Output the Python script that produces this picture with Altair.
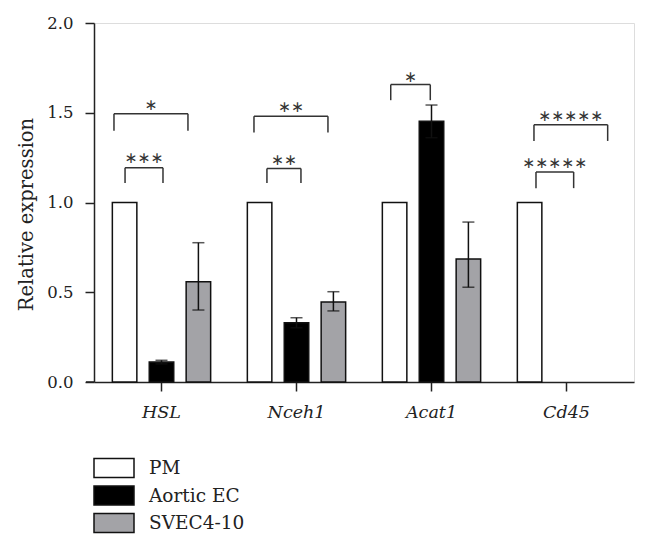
import altair as alt
import pandas as pd

genes = ["HSL", "Nceh1", "Acat1", "Cd45"]
groups = ["PM", "Aortic EC", "SVEC4-10"]

pm_vals = [1.0, 1.0, 1.0, 1.0]
aortic_vals = [0.111, 0.330, 1.452, 0.0]
aortic_lo = [0.101, 0.302, 1.361, None]
aortic_hi = [0.121, 0.358, 1.543, None]
svec_vals = [0.559, 0.446, 0.685, 0.0]
svec_lo = [0.401, 0.396, 0.528, None]
svec_hi = [0.776, 0.503, 0.891, None]

# significance brackets (x in category units: gene i spans [i, i+1])
br_x1 = [0.148, 0.230, 1.185, 1.281, 2.198, 3.259, 3.274]
br_x2 = [0.696, 0.511, 1.733, 1.533, 2.491, 3.805, 3.553]
br_top = [1.494, 1.194, 1.480, 1.190, 1.657, 1.433, 1.170]
br_leg = [1.400, 1.108, 1.390, 1.108, 1.570, 1.343, 1.080]
br_label = ["∗", "∗∗∗", "∗∗", "∗∗", "∗", "∗∗∗∗∗", "∗∗∗∗∗"]
br_label_y = [1.543, 1.248, 1.534, 1.237, 1.700, 1.482, 1.222]

rows = []
for i, g in enumerate(genes):
    rows.append({"gene": g, "group": "PM", "value": pm_vals[i], "lo": None, "hi": None})
    rows.append({"gene": g, "group": "Aortic EC", "value": aortic_vals[i], "lo": aortic_lo[i], "hi": aortic_hi[i]})
    rows.append({"gene": g, "group": "SVEC4-10", "value": svec_vals[i], "lo": svec_lo[i], "hi": svec_hi[i]})
df = pd.DataFrame(rows)
df_bars = df[df["value"] > 0]
df_err = df.dropna(subset=["lo", "hi"])

br = pd.DataFrame({"x1": br_x1, "x2": br_x2, "top": br_top, "leg": br_leg,
                   "label": br_label, "ly": br_label_y})
br["xm"] = (br["x1"] + br["x2"]) / 2

FONT = "DejaVu Serif"
INK = "#222222"
YTITLE = "Relative expression"

x_scale = alt.Scale(paddingInner=0.18, paddingOuter=0.09)
xoff = alt.XOffset("group:N", sort=groups,
                   scale=alt.Scale(paddingInner=0.336, paddingOuter=0.168))
y_scale = alt.Scale(domain=[0, 2], nice=False)

x_axis = alt.Axis(title=None, labelFont=FONT, labelFontStyle="italic", labelFontSize=17.5,
                  labelColor=INK, tickSize=9, tickWidth=1.5, tickColor=INK,
                  domainColor=INK, domainWidth=1.5, labelBaseline="alphabetic",
                  labelPadding=26, labelAngle=0, grid=False)
y_axis = alt.Axis(values=[0, 0.5, 1, 1.5, 2], format=".1f", labelFont=FONT, labelFontSize=16.5,
                  labelColor=INK, tickSize=9, tickWidth=1.5, tickColor=INK,
                  domainColor=INK, domainWidth=1.5, labelPadding=12, grid=False,
                  title=YTITLE, titleFont=FONT, titleFontSize=19.5, titleFontWeight="normal",
                  titleColor=INK, titleAngle=270, titleBaseline="alphabetic",
                  titleAlign="center", titleX=-62, titleY=191)

color_scale = alt.Scale(domain=groups, range=["#ffffff", "#000000", "#a3a3a7"])


def xband():
    return alt.X("gene:N", sort=genes, scale=x_scale, axis=x_axis, title=None)


bars = alt.Chart(df_bars).mark_bar(stroke="#111111", strokeWidth=1.5).encode(
    x=xband(),
    xOffset=xoff,
    y=alt.Y("value:Q", scale=y_scale, axis=y_axis),
    color=alt.Color("group:N", sort=groups, scale=color_scale,
                    legend=alt.Legend(title=None, orient="none", legendX=9, legendY=434,
                                      symbolType="M-2,-0.95L2,-0.95L2,0.95L-2,0.95Z",
                                      symbolSize=400, symbolStrokeColor="#111111",
                                      symbolStrokeWidth=1.5, symbolOpacity=1,
                                      labelFont=FONT, labelFontSize=18.5, labelColor=INK,
                                      labelOffset=24, rowPadding=1.5)),
)

err = alt.Chart(df_err).mark_rule(color="#111111", strokeWidth=1.5).encode(
    x=xband(),
    xOffset=xoff,
    y=alt.Y("lo:Q", scale=y_scale, title=YTITLE),
    y2="hi:Q",
)
cap_hi = alt.Chart(df_err).mark_tick(color="#111111", thickness=1.5, size=12).encode(
    x=xband(),
    xOffset=xoff,
    y=alt.Y("hi:Q", scale=y_scale, title=YTITLE),
)
cap_lo = alt.Chart(df_err).mark_tick(color="#111111", thickness=1.5, size=12).encode(
    x=xband(),
    xOffset=xoff,
    y=alt.Y("lo:Q", scale=y_scale, title=YTITLE),
)

axis_ext = alt.Chart(pd.DataFrame({"a": [0]})).mark_rule(color=INK, strokeWidth=1.5).encode(
    x=alt.value(-8), x2=alt.value(0), y=alt.value(359)
)

band_layer = alt.layer(bars, err, cap_hi, cap_lo, axis_ext)

bx = alt.Scale(domain=[0, 4], nice=False, zero=False)
br_top_line = alt.Chart(br).mark_rule(color="#333333", strokeWidth=1.5).encode(
    x=alt.X("x1:Q", scale=bx, axis=None), x2="x2:Q",
    y=alt.Y("top:Q", scale=y_scale, title=YTITLE),
)
br_left = alt.Chart(br).mark_rule(color="#333333", strokeWidth=1.5).encode(
    x=alt.X("x1:Q", scale=bx, axis=None),
    y=alt.Y("leg:Q", scale=y_scale, title=YTITLE), y2="top:Q",
)
br_right = alt.Chart(br).mark_rule(color="#333333", strokeWidth=1.5).encode(
    x=alt.X("x2:Q", scale=bx, axis=None),
    y=alt.Y("leg:Q", scale=y_scale, title=YTITLE), y2="top:Q",
)
br_text = alt.Chart(br).mark_text(font="DejaVu Sans", fontSize=15.5, baseline="middle",
                                  align="center", color="#333333").encode(
    x=alt.X("xm:Q", scale=bx, axis=None),
    y=alt.Y("ly:Q", scale=y_scale, title=YTITLE),
    text="label:N",
)
bracket_layer = alt.layer(br_top_line, br_left, br_right, br_text)

chart = alt.layer(band_layer, bracket_layer).resolve_scale(x="independent").properties(
    width=540, height=359,
    autosize=alt.AutoSizeParams(type="none"),
    padding={"left": 86, "top": 15, "right": 6, "bottom": 156},
).configure_view(stroke=None).configure(background="white")

chart.save("out.html", embed_options={"renderer": "svg", "actions": False})
